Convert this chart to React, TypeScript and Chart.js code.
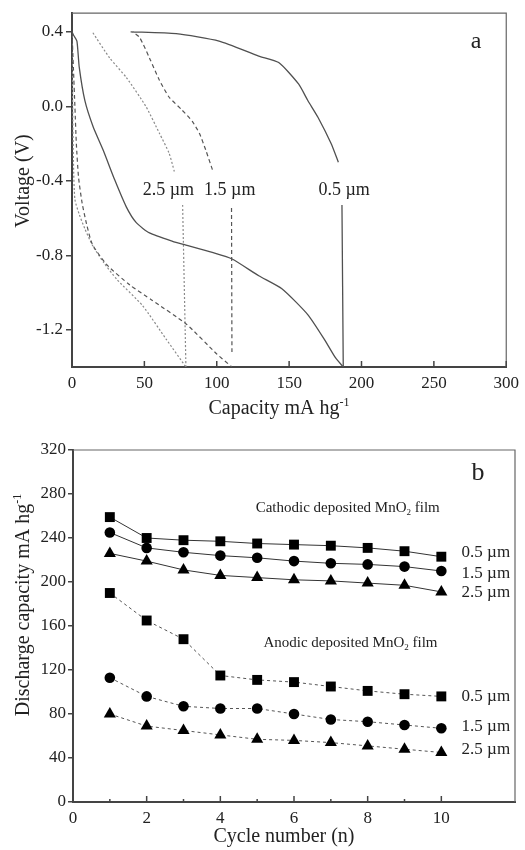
import React, { useEffect, useRef } from 'react';
import { Chart, registerables } from 'chart.js';
Chart.register(...registerables);

// ---------- Panel a: voltage vs capacity ----------
const capDis05 = [0, 1.2, 3.4, 5, 8.9, 14.6, 21.5, 29.5, 37.5, 44.4, 53.5, 69.5, 78.7, 96.9, 110.6, 129, 145, 163, 175, 182, 187.4];
const voltDis05 = [0.4, 0.38, 0.35, 0.21, 0.03, -0.11, -0.235, -0.395, -0.54, -0.625, -0.68, -0.725, -0.745, -0.785, -0.82, -0.91, -0.98, -1.12, -1.26, -1.35, -1.4];
const capChg05 = [187.4, 186.5, null, 184, 179, 170, 163, 156.5, 142.8, 129, 101.6, 72, 40.5];
const voltChg05 = [-1.4, -0.53, null, -0.3, -0.2, -0.06, 0.03, 0.12, 0.235, 0.27, 0.35, 0.39, 0.4];

const capDis15 = [0, 1, 2, 3, 4.5, 7, 10, 14, 24, 40, 55, 79, 100, 110.5];
const voltDis15 = [0.4, 0.2, 0.0, -0.2, -0.38, -0.52, -0.63, -0.74, -0.85, -0.96, -1.04, -1.17, -1.33, -1.4];
const capChg15 = [110.5, 110.2, null, 97, 92.4, 88, 83, 76, 67, 60.4, 53.5, 46.7, 42];
const voltChg15 = [-1.32, -0.53, null, -0.34, -0.235, -0.145, -0.08, -0.02, 0.05, 0.14, 0.26, 0.37, 0.4];

const capDis25 = [0, 0.5, 1, 2, 5, 9, 14.4, 22, 31, 48.7, 65, 78.7];
const voltDis25 = [0.4, 0.0, -0.3, -0.5, -0.58, -0.66, -0.75, -0.84, -0.93, -1.07, -1.25, -1.4];
const capChg25 = [78.7, 76.4, null, 70.7, 67, 60.4, 51, 37.5, 26, 14];
const voltChg25 = [-1.4, -0.52, null, -0.35, -0.25, -0.145, 0.0, 0.155, 0.26, 0.4];

const voltTicksA = [-1.2, -0.8, -0.4, 0.0, 0.4];

// ---------- Panel b: discharge capacity vs cycle ----------
const cycles = [1, 2, 3, 4, 5, 6, 7, 8, 9, 10];
const cathodic05 = [259, 240, 238, 237, 235, 234, 233, 231, 228, 223];
const cathodic15 = [245, 231, 227, 224, 222, 219, 217, 216, 214, 210];
const cathodic25 = [226, 219, 211, 206, 204, 202, 201, 199, 197, 191];
const anodic05 = [190, 165, 148, 115, 111, 109, 105, 101, 98, 96];
const anodic15 = [113, 96, 87, 85, 85, 80, 75, 73, 70, 67];
const anodic25 = [80, 69, 65, 61, 57, 56, 54, 51, 48, 45];

const FAMILY = '"Liberation Serif", "Times New Roman", serif';

type Part = [string, 'n' | 'sub' | 'sup'];

function drawRich(ctx: CanvasRenderingContext2D, parts: Part[], x: number, y: number, size: number, align: 'left' | 'center', rotate = false, color = '#222') {
  ctx.save();
  ctx.translate(x, y);
  if (rotate) ctx.rotate(-Math.PI / 2);
  ctx.fillStyle = color;
  ctx.textBaseline = 'middle';
  ctx.textAlign = 'left';
  const small = Math.round(size * 0.62);
  const widths = parts.map(([t, m]) => {
    ctx.font = `${m === 'n' ? size : small}px ${FAMILY}`;
    return ctx.measureText(t).width;
  });
  const total = widths.reduce((a, b) => a + b, 0);
  let cx = align === 'center' ? -total / 2 : 0;
  parts.forEach(([t, m], i) => {
    ctx.font = `${m === 'n' ? size : small}px ${FAMILY}`;
    const dy = m === 'sub' ? size * 0.28 : m === 'sup' ? -size * 0.32 : 0;
    ctx.fillText(t, cx, dy);
    cx += widths[i];
  });
  ctx.restore();
}

function pts(xs: (number | null)[], ys: (number | null)[]) {
  return xs.map((x, i) => ({ x: x === null ? NaN : x, y: ys[i] === null ? NaN : ys[i] }));
}

function ChartA() {
  const ref = useRef<HTMLCanvasElement>(null);
  useEffect(() => {
    const solid = { borderColor: '#505050', borderWidth: 1.3, showLine: true, pointRadius: 0, tension: 0.2, spanGaps: false };
    const dashed = { borderColor: '#555', borderWidth: 1.2, borderDash: [4, 3], showLine: true, pointRadius: 0, tension: 0.2, spanGaps: false };
    const dotted = { borderColor: '#8a8a8a', borderWidth: 1.2, borderDash: [2, 2], showLine: true, pointRadius: 0, tension: 0.2, spanGaps: false };
    const decor = {
      id: 'decorA',
      afterDraw(chart: any) {
        const ctx = chart.ctx as CanvasRenderingContext2D;
        const a = chart.chartArea;
        const xs = chart.scales.x;
        const ys = chart.scales.y;
        ctx.save();
        ctx.strokeStyle = '#666';
        ctx.lineWidth = 1.2;
        ctx.beginPath();
        ctx.moveTo(a.left, a.top);
        ctx.lineTo(a.right, a.top);
        ctx.lineTo(a.right, a.bottom);
        ctx.stroke();
        ctx.strokeStyle = '#444';
        ctx.lineWidth = 1.5;
        xs.ticks.forEach((t: any) => {
          const px = xs.getPixelForValue(t.value);
          ctx.beginPath();
          ctx.moveTo(px, a.bottom);
          ctx.lineTo(px, a.bottom - 6);
          ctx.stroke();
        });
        ctx.restore();
        drawRich(ctx, [['Voltage (V)', 'n']], 24, 181, 20, 'center', true);
        drawRich(ctx, [['Capacity mA hg', 'n'], ['-1', 'sup']], 279, 409, 20, 'center');
        drawRich(ctx, [['a', 'n']], 476, 42, 24, 'center');
        const lab = (t: string, cx: number, cy: number) =>
          drawRich(ctx, [[t, 'n']], xs.getPixelForValue(cx), ys.getPixelForValue(cy), 18, 'center');
        lab('2.5 µm', 66.6, -0.453);
        lab('1.5 µm', 109, -0.453);
        lab('0.5 µm', 188, -0.453);
      },
    };
    const chart = new Chart(ref.current!, {
      type: 'scatter',
      data: {
        datasets: [
          { data: pts(capDis05, voltDis05), ...solid },
          { data: pts(capChg05, voltChg05), ...solid },
          { data: pts(capDis15, voltDis15), ...dashed },
          { data: pts(capChg15, voltChg15), ...dashed },
          { data: pts(capDis25, voltDis25), ...dotted },
          { data: pts(capChg25, voltChg25), ...dotted },
        ] as any,
      },
      options: {
        responsive: false,
        animation: false,
        devicePixelRatio: 1,
        layout: { padding: { left: 0, right: 17, top: 12, bottom: 0 } },
        plugins: { legend: { display: false }, tooltip: { enabled: false } },
        scales: {
          x: {
            type: 'linear',
            min: 0,
            max: 300,
            afterFit: (s: any) => { s.height = 53; },
            ticks: { stepSize: 50, color: '#222', font: { family: FAMILY, size: 17 }, padding: 6, maxRotation: 0 },
            grid: { display: false, drawTicks: false },
            border: { display: true, color: '#444', width: 2 },
          },
          y: {
            type: 'linear',
            min: -1.4,
            max: 0.5,
            afterFit: (s: any) => { s.width = 72; },
            afterBuildTicks: (s: any) => { s.ticks = voltTicksA.map((v) => ({ value: v })); },
            ticks: { color: '#222', font: { family: FAMILY, size: 17 }, padding: 3, callback: (v: any) => Number(v).toFixed(1) },
            grid: { display: true, drawOnChartArea: false, drawTicks: true, tickLength: 6, color: '#444', lineWidth: 1.5 },
            border: { display: true, color: '#444', width: 2 },
          },
        },
      } as any,
      plugins: [decor],
    });
    return () => chart.destroy();
  }, []);
  return <canvas ref={ref} width={525} height={420} style={{ position: 'absolute', left: 0, top: 0, width: 525, height: 420 }} />;
}

function ChartB() {
  const ref = useRef<HTMLCanvasElement>(null);
  useEffect(() => {
    const mk = (ys: number[], style: string, radius: number, dashed: boolean) => ({
      data: cycles.map((c, i) => ({ x: c, y: ys[i] })),
      borderColor: dashed ? '#555' : '#333',
      borderWidth: 1,
      borderDash: dashed ? [3, 3] : [],
      pointStyle: style,
      pointRadius: radius,
      pointBackgroundColor: '#000',
      pointBorderColor: '#000',
      pointBorderWidth: 0,
      tension: 0,
    });
    const decor = {
      id: 'decorB',
      afterDraw(chart: any) {
        const ctx = chart.ctx as CanvasRenderingContext2D;
        const a = chart.chartArea;
        const xs = chart.scales.x;
        const ys = chart.scales.y;
        ctx.save();
        ctx.strokeStyle = '#666';
        ctx.lineWidth = 1.2;
        ctx.beginPath();
        ctx.moveTo(a.left, a.top);
        ctx.lineTo(a.right, a.top);
        ctx.lineTo(a.right, a.bottom);
        ctx.stroke();
        ctx.strokeStyle = '#444';
        ctx.lineWidth = 1.5;
        xs.ticks.forEach((t: any) => {
          if (t.value <= 0 || t.value > 10) return;
          const px = xs.getPixelForValue(t.value);
          const len = t.value % 2 === 0 ? 6 : 3;
          ctx.beginPath();
          ctx.moveTo(px, a.bottom);
          ctx.lineTo(px, a.bottom - len);
          ctx.stroke();
        });
        ctx.restore();
        drawRich(ctx, [['Discharge capacity mA hg', 'n'], ['-1', 'sup']], 24, 185, 20, 'center', true);
        drawRich(ctx, [['Cycle number (n)', 'n']], 284, 417, 20, 'center');
        drawRich(ctx, [['b', 'n']], 478, 53, 26, 'center');
        const at = (x: number, y: number) => [xs.getPixelForValue(x), ys.getPixelForValue(y)];
        let p = at(4.96, 267);
        drawRich(ctx, [['Cathodic deposited MnO', 'n'], ['2', 'sub'], [' film', 'n']], p[0], p[1], 15, 'left');
        p = at(5.17, 144.5);
        drawRich(ctx, [['Anodic deposited MnO', 'n'], ['2', 'sub'], [' film', 'n']], p[0], p[1], 15, 'left');
        const lab = (t: string, y: number) => {
          const q = at(10.55, y);
          drawRich(ctx, [[t, 'n']], q[0], q[1], 17, 'left');
        };
        lab('0.5 µm', 226.5);
        lab('1.5 µm', 208);
        lab('2.5 µm', 190);
        lab('0.5 µm', 96.3);
        lab('1.5 µm', 68.3);
        lab('2.5 µm', 47.4);
      },
    };
    const chart = new Chart(ref.current!, {
      type: 'line',
      data: {
        datasets: [
          mk(cathodic05, 'rect', 7, false),
          mk(cathodic15, 'circle', 5.3, false),
          mk(cathodic25, 'triangle', 7, false),
          mk(anodic05, 'rect', 7, true),
          mk(anodic15, 'circle', 5.3, true),
          mk(anodic25, 'triangle', 7, true),
        ] as any,
      },
      options: {
        responsive: false,
        animation: false,
        devicePixelRatio: 1,
        layout: { padding: { left: 0, right: 10, top: 30, bottom: 0 } },
        plugins: { legend: { display: false }, tooltip: { enabled: false } },
        scales: {
          x: {
            type: 'linear',
            min: 0,
            max: 12,
            afterFit: (s: any) => { s.height = 48; },
            ticks: {
              stepSize: 1,
              autoSkip: false,
              maxRotation: 0,
              color: '#222',
              font: { family: FAMILY, size: 17 },
              padding: 6,
              callback: (v: any) => (v % 2 === 0 && v <= 10 ? String(v) : ''),
            },
            grid: { display: false, drawTicks: false },
            border: { display: true, color: '#444', width: 2 },
          },
          y: {
            type: 'linear',
            min: 0,
            max: 320,
            afterFit: (s: any) => { s.width = 73; },
            ticks: { stepSize: 40, color: '#222', font: { family: FAMILY, size: 17 }, padding: 2 },
            grid: { display: true, drawOnChartArea: false, drawTicks: true, tickLength: 5, color: '#444', lineWidth: 1.5 },
            border: { display: true, color: '#444', width: 2 },
          },
        },
      } as any,
      plugins: [decor],
    });
    return () => chart.destroy();
  }, []);
  return <canvas ref={ref} width={525} height={430} style={{ position: 'absolute', left: 0, top: 420, width: 525, height: 430 }} />;
}

export default function App() {
  return (
    <div style={{ position: 'absolute', left: 0, top: 0, width: 525, height: 850, background: '#fff' }}>
      <ChartA />
      <ChartB />
    </div>
  );
}
